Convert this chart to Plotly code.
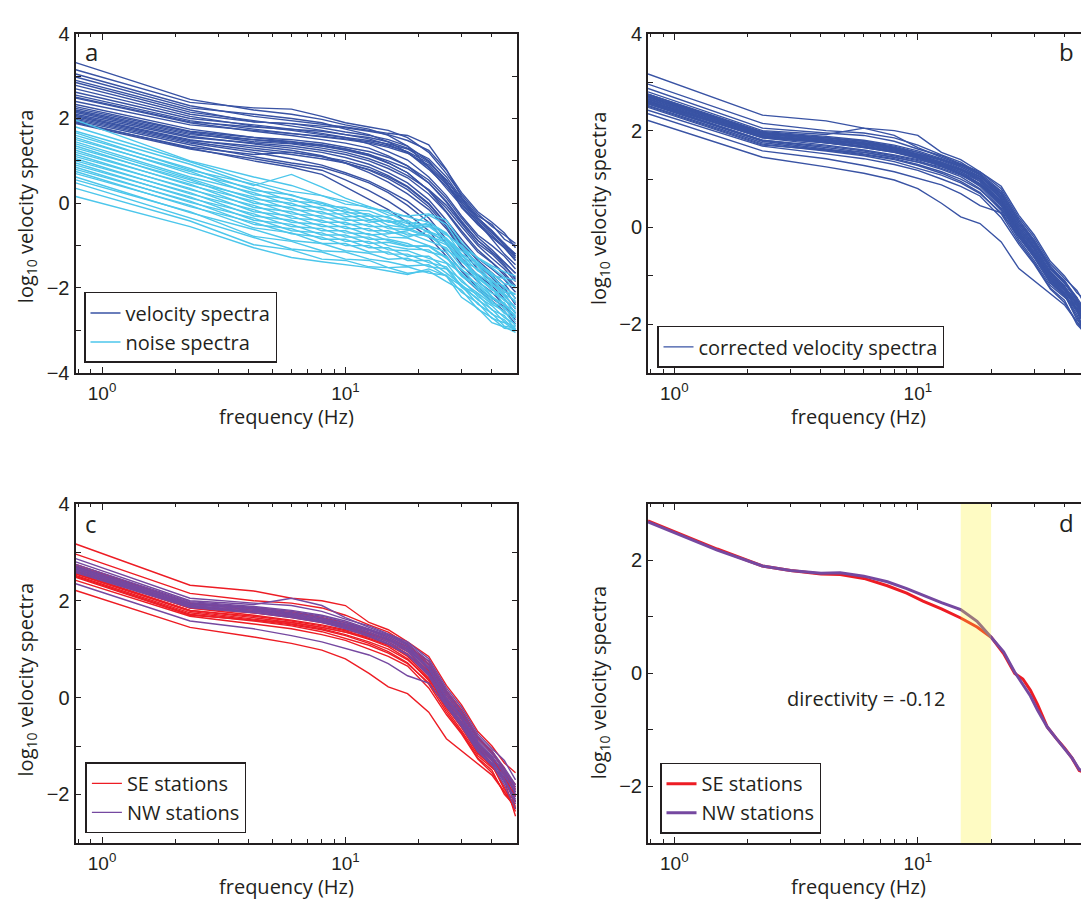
import plotly.graph_objects as go

# ---------------- data ----------------
FREQ = [0.78, 2.3, 4.2, 6, 8, 10, 12.5, 15, 18, 22, 26, 30, 35, 40, 45, 50]

velocity_spectra = [
    [3.32, 2.45, 2.20, 2.10, 1.98, 1.85, 1.75, 1.60, 1.35, 0.85, 0.35, -0.05, -0.50, -0.80, -1.05, -1.25],
    [3.15, 2.38, 2.25, 2.22, 2.05, 1.90, 1.80, 1.72, 1.55, 1.20, 0.70, 0.20, -0.25, -0.55, -0.75, -0.95],
    [3.05, 2.30, 2.05, 1.95, 1.88, 1.80, 1.72, 1.65, 1.60, 1.38, 0.80, 0.15, -0.30, -0.50, -0.85, -1.00],
    [2.98, 2.25, 2.10, 2.00, 1.90, 1.75, 1.62, 1.45, 1.20, 0.80, 0.40, 0.00, -0.45, -0.75, -1.05, -1.35],
    [2.90, 2.20, 1.92, 1.88, 1.82, 1.78, 1.70, 1.62, 1.48, 1.25, 0.78, 0.25, -0.20, -0.45, -0.70, -1.05],
    [2.85, 2.15, 1.95, 1.82, 1.72, 1.62, 1.52, 1.38, 1.20, 0.85, 0.45, 0.05, -0.40, -0.70, -0.95, -1.20],
    [2.78, 2.10, 1.92, 1.88, 1.78, 1.68, 1.60, 1.50, 1.35, 1.00, 0.50, -0.10, -0.50, -0.80, -1.05, -1.35],
    [2.70, 2.05, 1.82, 1.72, 1.62, 1.55, 1.48, 1.40, 1.28, 0.98, 0.55, 0.10, -0.35, -0.65, -1.00, -1.20],
    [2.62, 2.00, 1.85, 1.75, 1.65, 1.55, 1.40, 1.22, 1.02, 0.62, 0.18, -0.30, -0.75, -1.00, -1.25, -1.55],
    [2.55, 1.95, 1.75, 1.65, 1.58, 1.50, 1.42, 1.32, 1.18, 0.90, 0.48, 0.00, -0.45, -0.85, -1.20, -1.45],
    [2.48, 1.90, 1.70, 1.60, 1.50, 1.42, 1.30, 1.12, 0.88, 0.48, 0.02, -0.45, -0.88, -1.15, -1.40, -1.65],
    [2.40, 1.85, 1.72, 1.65, 1.58, 1.52, 1.45, 1.35, 1.22, 0.95, 0.55, 0.05, -0.35, -0.70, -1.00, -1.30],
    [2.33, 1.75, 1.55, 1.45, 1.35, 1.25, 1.12, 0.95, 0.72, 0.30, -0.20, -0.65, -1.10, -1.40, -1.65, -1.95],
    [2.28, 1.70, 1.55, 1.50, 1.42, 1.32, 1.22, 1.08, 0.88, 0.55, 0.12, -0.35, -0.80, -1.10, -1.40, -1.65],
    [2.24, 1.68, 1.50, 1.42, 1.35, 1.28, 1.15, 0.95, 0.72, 0.30, -0.12, -0.55, -1.00, -1.30, -1.55, -1.85],
    [2.20, 1.65, 1.45, 1.40, 1.30, 1.20, 1.05, 0.88, 0.65, 0.32, -0.05, -0.48, -0.95, -1.20, -1.50, -1.75],
    [2.17, 1.62, 1.50, 1.45, 1.38, 1.28, 1.15, 1.00, 0.82, 0.48, 0.05, -0.42, -0.88, -1.15, -1.45, -1.80],
    [2.14, 1.58, 1.40, 1.30, 1.20, 1.08, 0.92, 0.72, 0.48, 0.08, -0.40, -0.85, -1.30, -1.55, -1.80, -2.10],
    [2.10, 1.55, 1.42, 1.35, 1.25, 1.15, 1.00, 0.82, 0.60, 0.22, -0.22, -0.70, -1.15, -1.40, -1.70, -2.00],
    [2.07, 1.50, 1.30, 1.20, 1.10, 1.00, 0.85, 0.65, 0.40, 0.00, -0.48, -0.95, -1.35, -1.65, -1.90, -2.25],
    [2.04, 1.48, 1.35, 1.25, 1.12, 0.95, 0.78, 0.58, 0.32, -0.08, -0.55, -1.05, -1.45, -1.75, -2.05, -2.35],
    [2.01, 1.45, 1.25, 1.15, 1.05, 0.95, 0.80, 0.62, 0.38, -0.02, -0.50, -1.00, -1.45, -1.70, -2.00, -2.40],
    [1.98, 1.42, 1.20, 1.05, 0.90, 0.72, 0.52, 0.30, 0.05, -0.35, -0.85, -1.30, -1.70, -1.95, -2.25, -2.60],
    [1.95, 1.38, 1.10, 0.95, 0.85, 0.68, 0.48, 0.25, -0.05, -0.45, -0.95, -1.45, -1.85, -2.10, -2.40, -2.70],
    [1.92, 1.30, 1.00, 0.85, 0.68, 0.38, 0.10, -0.15, -0.45, -0.80, -1.25, -1.70, -2.05, -2.30, -2.55, -2.85],
    [1.90, 1.32, 1.15, 1.20, 1.10, 0.95, 0.72, 0.50, 0.22, -0.15, -0.60, -1.10, -1.55, -1.85, -2.15, -2.50],
    [1.88, 1.28, 1.05, 0.90, 0.78, 0.55, 0.30, 0.05, -0.25, -0.65, -1.15, -1.60, -2.00, -2.25, -2.45, -2.75],
    [2.50, 1.92, 1.80, 1.75, 1.70, 1.62, 1.55, 1.45, 1.30, 1.05, 0.62, 0.12, -0.35, -0.65, -0.95, -1.25],
]

noise_spectra = [
    [1.96, 1.00, 0.62, 0.42, 0.18, 0.05, -0.12, -0.18, -0.32, -0.45, -0.72, -1.05, -1.28, -1.48, -1.62, -1.72],
    [1.80, 0.98, 0.50, 0.28, 0.18, -0.02, -0.08, -0.28, -0.30, -0.25, -0.40, -0.92, -1.30, -1.52, -1.75, -1.82],
    [1.70, 0.92, 0.42, 0.68, 0.38, 0.12, -0.08, -0.22, -0.45, -0.52, -0.85, -1.12, -1.38, -1.70, -1.78, -2.00],
    [1.66, 0.78, 0.45, 0.18, 0.02, -0.15, -0.18, -0.35, -0.48, -0.66, -0.82, -1.20, -1.42, -1.65, -1.90, -1.95],
    [1.60, 0.82, 0.30, 0.20, -0.05, -0.10, -0.30, -0.32, -0.55, -0.50, -0.75, -1.00, -1.45, -1.72, -2.00, -2.15],
    [1.55, 0.70, 0.35, 0.05, 0.00, -0.22, -0.25, -0.45, -0.40, -0.70, -0.88, -1.25, -1.48, -1.85, -1.95, -2.25],
    [1.50, 0.75, 0.20, 0.10, -0.15, -0.18, -0.38, -0.42, -0.60, -0.55, -0.85, -1.22, -1.60, -1.80, -2.10, -2.15],
    [1.45, 0.62, 0.25, -0.05, -0.10, -0.32, -0.30, -0.52, -0.58, -0.78, -0.92, -1.35, -1.55, -1.95, -2.05, -2.35],
    [1.40, 0.58, 0.10, 0.00, -0.25, -0.25, -0.45, -0.40, -0.55, -0.28, -0.50, -1.05, -1.45, -1.88, -2.15, -2.30],
    [1.35, 0.50, 0.15, -0.15, -0.20, -0.40, -0.40, -0.60, -0.62, -0.80, -0.98, -1.38, -1.68, -1.90, -2.20, -2.45],
    [1.30, 0.55, 0.00, -0.10, -0.35, -0.35, -0.55, -0.55, -0.75, -0.75, -1.10, -1.35, -1.75, -2.05, -2.15, -2.50],
    [1.25, 0.42, 0.05, -0.25, -0.30, -0.50, -0.50, -0.70, -0.70, -0.90, -1.05, -1.50, -1.72, -2.00, -2.30, -2.45],
    [1.20, 0.45, -0.10, -0.20, -0.45, -0.45, -0.65, -0.65, -0.80, -0.65, -0.95, -1.30, -1.85, -2.12, -2.25, -2.60],
    [1.15, 0.32, -0.05, -0.35, -0.40, -0.60, -0.60, -0.80, -0.82, -1.00, -1.15, -1.58, -1.80, -2.20, -2.40, -2.55],
    [1.10, 0.35, -0.20, -0.30, -0.55, -0.55, -0.75, -0.72, -0.65, -0.45, -0.70, -1.20, -1.78, -2.00, -2.40, -2.65],
    [1.05, 0.22, -0.15, -0.45, -0.50, -0.70, -0.72, -0.88, -1.00, -1.02, -1.30, -1.55, -1.95, -2.25, -2.35, -2.70],
    [1.00, 0.25, -0.30, -0.40, -0.65, -0.65, -0.85, -0.85, -0.95, -1.15, -1.25, -1.70, -1.90, -2.20, -2.50, -2.65],
    [0.95, 0.12, -0.25, -0.55, -0.60, -0.80, -0.80, -1.00, -1.08, -1.10, -1.40, -1.65, -2.05, -2.35, -2.45, -2.80],
    [0.90, 0.15, -0.40, -0.50, -0.75, -0.75, -0.95, -0.92, -1.02, -1.00, -1.28, -1.72, -2.00, -2.30, -2.60, -2.70],
    [0.85, 0.02, -0.35, -0.65, -0.70, -0.90, -0.90, -1.10, -1.12, -1.30, -1.42, -1.85, -2.12, -2.38, -2.55, -2.90],
    [0.80, 0.05, -0.50, -0.60, -0.85, -0.85, -1.05, -1.05, -1.25, -1.25, -1.55, -1.80, -2.20, -2.42, -2.70, -2.85],
    [0.75, -0.08, -0.45, -0.72, -0.80, -1.00, -1.00, -1.20, -1.20, -1.40, -1.50, -1.95, -2.15, -2.52, -2.65, -2.98],
    [0.70, -0.05, -0.58, -0.70, -0.95, -0.95, -1.15, -1.15, -1.35, -1.35, -1.65, -1.92, -2.28, -2.50, -2.80, -2.92],
    [0.62, -0.22, -0.62, -0.88, -0.95, -1.12, -1.18, -1.32, -1.30, -1.50, -1.55, -1.98, -2.25, -2.62, -2.75, -3.00],
    [0.55, -0.20, -0.78, -0.90, -1.12, -1.15, -1.32, -1.38, -1.48, -1.45, -1.72, -1.95, -2.38, -2.60, -2.90, -2.95],
    [0.48, -0.35, -0.80, -1.08, -1.15, -1.32, -1.35, -1.52, -1.50, -1.65, -1.70, -2.10, -2.35, -2.72, -2.82, -3.00],
    [0.35, -0.42, -0.98, -1.10, -1.32, -1.35, -1.50, -1.52, -1.65, -1.60, -1.85, -2.05, -2.50, -2.70, -2.95, -2.98],
    [0.16, -0.55, -1.05, -1.28, -1.38, -1.45, -1.52, -1.60, -1.68, -1.55, -1.72, -2.22, -2.48, -2.82, -2.92, -3.05],
]

# corrected velocity spectra (panel b); the same curves split by station side (panel c)
corrected_spectra = [
    [3.17, 2.32, 2.20, 2.05, 2.00, 1.90, 1.55, 1.40, 1.15, 0.85, 0.25, -0.15, -0.70, -1.00, -1.35, -1.55],
    [2.96, 2.15, 2.00, 1.95, 1.85, 1.70, 1.50, 1.35, 1.10, 0.70, 0.10, -0.30, -0.85, -1.10, -1.50, -1.90],
    [2.75, 1.95, 1.80, 1.75, 1.65, 1.50, 1.35, 1.20, 0.95, 0.55, -0.05, -0.45, -1.00, -1.25, -1.70, -2.15],
    [2.70, 1.90, 1.75, 1.65, 1.55, 1.45, 1.30, 1.15, 0.90, 0.45, -0.15, -0.55, -1.05, -1.30, -1.55, -1.95],
    [2.65, 1.88, 1.78, 1.72, 1.62, 1.48, 1.32, 1.18, 1.00, 0.60, 0.05, -0.35, -0.85, -1.15, -1.45, -2.30],
    [2.60, 1.85, 1.70, 1.60, 1.50, 1.40, 1.28, 1.10, 0.85, 0.40, -0.20, -0.60, -1.15, -1.40, -1.85, -2.35],
    [2.58, 1.80, 1.65, 1.55, 1.45, 1.35, 1.20, 1.05, 0.80, 0.35, -0.25, -0.68, -1.20, -1.45, -1.65, -2.05],
    [2.55, 1.78, 1.62, 1.52, 1.42, 1.30, 1.15, 1.00, 0.78, 0.38, -0.12, -0.55, -1.05, -1.38, -1.90, -2.15],
    [2.52, 1.75, 1.60, 1.50, 1.40, 1.28, 1.12, 0.95, 0.72, 0.28, -0.30, -0.72, -1.25, -1.50, -2.00, -2.25],
    [2.50, 1.72, 1.58, 1.48, 1.36, 1.22, 1.08, 0.92, 0.70, 0.30, -0.20, -0.62, -1.15, -1.42, -1.70, -2.45],
    [2.48, 1.70, 1.60, 1.55, 1.45, 1.35, 1.25, 1.10, 0.90, 0.55, 0.00, -0.40, -0.95, -1.25, -1.55, -1.85],
    [2.72, 1.95, 1.85, 1.78, 1.65, 1.55, 1.40, 1.25, 1.05, 0.75, 0.15, -0.25, -0.80, -1.15, -1.50, -1.80],
    [2.21, 1.45, 1.25, 1.12, 0.98, 0.80, 0.50, 0.22, 0.08, -0.30, -0.85, -1.10, -1.35, -1.60, -1.95, -2.30],
    [2.42, 1.68, 1.52, 1.42, 1.30, 1.18, 1.00, 0.85, 0.65, 0.20, -0.35, -0.75, -1.27, -1.55, -1.95, -2.20],
    [2.62, 1.85, 1.75, 1.68, 1.58, 1.46, 1.32, 1.20, 1.05, 0.68, 0.10, -0.30, -0.85, -1.10, -1.50, -2.05],
    [2.56, 1.80, 1.68, 1.58, 1.48, 1.38, 1.22, 1.08, 0.88, 0.50, -0.08, -0.50, -1.00, -1.30, -1.60, -2.15],
    [2.87, 2.05, 1.95, 1.90, 1.78, 1.62, 1.48, 1.32, 1.15, 0.80, 0.20, -0.20, -0.75, -1.05, -1.30, -1.70],
    [2.80, 2.00, 1.92, 2.05, 1.90, 1.65, 1.45, 1.30, 1.12, 0.75, 0.15, -0.28, -0.80, -1.10, -1.45, -1.80],
    [2.75, 1.98, 1.88, 1.80, 1.70, 1.58, 1.42, 1.28, 1.08, 0.70, 0.10, -0.32, -0.85, -1.15, -1.50, -1.85],
    [2.72, 1.96, 1.86, 1.78, 1.68, 1.55, 1.40, 1.25, 1.05, 0.65, 0.05, -0.38, -0.90, -1.20, -1.60, -1.95],
    [2.70, 1.95, 1.85, 1.75, 1.65, 1.52, 1.38, 1.22, 1.02, 0.62, 0.00, -0.42, -0.95, -1.22, -1.55, -2.00],
    [2.68, 1.93, 1.83, 1.73, 1.62, 1.50, 1.35, 1.20, 1.00, 0.58, -0.05, -0.45, -0.98, -1.28, -1.68, -2.10],
    [2.66, 1.92, 1.82, 1.72, 1.63, 1.52, 1.40, 1.28, 1.10, 0.60, -0.02, -0.40, -0.92, -1.25, -1.50, -1.90],
    [2.64, 1.90, 1.80, 1.70, 1.60, 1.48, 1.33, 1.18, 0.98, 0.52, -0.10, -0.50, -1.02, -1.30, -1.70, -2.20],
    [2.62, 1.89, 1.78, 1.68, 1.58, 1.46, 1.30, 1.15, 0.95, 0.50, -0.12, -0.52, -1.05, -1.35, -1.75, -2.05],
    [2.35, 1.58, 1.42, 1.28, 1.15, 1.02, 0.88, 0.70, 0.45, 0.30, -0.18, -0.55, -1.10, -1.35, -1.62, -1.95],
    [2.60, 1.87, 1.76, 1.66, 1.56, 1.44, 1.28, 1.12, 0.90, 0.48, -0.15, -0.58, -1.08, -1.38, -1.80, -2.30],
    [2.58, 1.86, 1.75, 1.65, 1.55, 1.42, 1.26, 1.10, 0.88, 0.45, -0.18, -0.60, -1.12, -1.40, -1.70, -2.15],
]
station_side = ["SE"] * 16 + ["NW"] * 12

# panel d: average spectra of each side
FREQ_D = [0.78, 1.5, 2.3, 3, 4, 4.8, 6, 7.5, 9, 10.5, 12.5, 15, 17.5, 20, 22.5, 25, 27, 29, 31, 34, 37, 40, 43, 46, 50]
mean_SE = [2.70, 2.20, 1.90, 1.82, 1.76, 1.75, 1.68, 1.55, 1.42, 1.28, 1.14, 0.98, 0.82, 0.64, 0.35, 0.00,
           -0.10, -0.30, -0.55, -0.95, -1.15, -1.32, -1.50, -1.72, -1.78]
mean_NW = [2.68, 2.18, 1.90, 1.82, 1.77, 1.78, 1.72, 1.62, 1.50, 1.38, 1.25, 1.13, 0.92, 0.64, 0.38, 0.02,
           -0.20, -0.40, -0.65, -0.95, -1.15, -1.33, -1.50, -1.70, -1.76]
band_hz = [15, 20]
directivity = -0.12

# ---------------- style ----------------
W, H = 1081, 911
INK = "#231f20"
C_VEL = "#3953a4"
C_NOISE = "#4cc6eb"
C_SE = "#ed1c24"
C_NW = "#7548a0"
TICKFONT = "Liberation Sans, Arial, sans-serif"
TXTFONT = "Open Sans, Noto Sans, sans-serif"

LEFT = [75.5 / W, 516.5 / W]
RIGHT = [648 / W, 1.0]
TOP = [1 - 370.7 / H, 1 - 23.3 / H]
BOT = [1 - 852.5 / H, 1 - 505 / H]
XR_LEFT = [-0.109, 1.703]
XR_RIGHT = [-0.108, 1.670]
MINOR_X = [0.8, 0.9, 2, 3, 4, 5, 6, 7, 8, 9, 20, 30, 40, 50]

fig = go.Figure()


def add_line(x, y, color, width, xa, ya, name, legend, show):
    fig.add_trace(go.Scatter(x=x, y=y, mode="lines", line=dict(color=color, width=width),
                             xaxis=xa, yaxis=ya, name=name, legend=legend, showlegend=show,
                             hoverinfo="skip"))


# panel a
for i, s in enumerate(velocity_spectra):
    add_line(FREQ, s, C_VEL, 1.4, "x", "y", "velocity spectra", "legend", i == 0)
for i, s in enumerate(noise_spectra):
    add_line(FREQ, s, C_NOISE, 1.4, "x", "y", "noise spectra", "legend", i == 0)

# panel b
for i, s in enumerate(corrected_spectra):
    add_line(FREQ, s, C_VEL, 1.4, "x2", "y2", "corrected velocity spectra", "legend2", i == 0)

# panel c
first = True
for s, side in zip(corrected_spectra, station_side):
    if side == "SE":
        add_line(FREQ, s, C_SE, 1.4, "x3", "y3", "SE stations", "legend3", first)
        first = False
first = True
for s, side in zip(corrected_spectra, station_side):
    if side == "NW":
        add_line(FREQ, s, C_NW, 1.4, "x3", "y3", "NW stations", "legend3", first)
        first = False

# panel d
add_line(FREQ_D, mean_SE, C_SE, 3, "x4", "y4", "SE stations", "legend4", True)
add_line(FREQ_D, mean_NW, C_NW, 3, "x4", "y4", "NW stations", "legend4", True)
fig.add_trace(go.Scatter(x=[band_hz[0], band_hz[1], band_hz[1], band_hz[0], band_hz[0]],
                         y=[-3, -3, 3, 3, -3], mode="lines", fill="toself",
                         fillcolor="rgba(250,240,40,0.28)", line=dict(width=0),
                         xaxis="x4", yaxis="y4", showlegend=False, hoverinfo="skip"))


def xaxis(domain, rng, anchor):
    return dict(type="log", domain=domain, range=rng, anchor=anchor,
                showline=True, linecolor=INK, linewidth=2, mirror="ticks",
                ticks="inside", ticklen=6, tickwidth=1, tickcolor=INK,
                tickmode="array", tickvals=[1, 10],
                ticktext=["10<sup>0</sup>", "10<sup>1</sup>"],
                tickfont=dict(family=TICKFONT, size=19, color=INK),
                ticklabelstandoff=2,
                minor=dict(ticks="inside", ticklen=3.5, tickwidth=1, tickcolor=INK,
                           tickmode="array", tickvals=MINOR_X, showgrid=False),
                showgrid=False, zeroline=False, fixedrange=True)


def yaxis(domain, lo, hi, anchor, mirror):
    major = [v for v in range(lo, hi + 1) if v % 2 == 0]
    minor = [v for v in range(lo, hi + 1) if v % 2 != 0]
    return dict(domain=domain, range=[lo, hi], anchor=anchor,
                showline=True, linecolor=INK, linewidth=2, mirror=mirror,
                ticks="inside", ticklen=5, tickwidth=1, tickcolor=INK,
                tickmode="array", tickvals=major,
                ticktext=[str(v).replace("-", "\u2212") for v in major],
                tickfont=dict(family=TICKFONT, size=20, color=INK),
                minor=dict(ticks="inside", ticklen=5, tickwidth=1, tickcolor=INK,
                           tickmode="array", tickvals=minor, showgrid=False),
                showgrid=False, zeroline=False, fixedrange=True)


def legend_at(xpx, ybottom_px):
    return dict(x=xpx / W, y=1 - ybottom_px / H, xanchor="left", yanchor="bottom",
                bordercolor=INK, borderwidth=1.5, bgcolor="white",
                font=dict(family=TXTFONT, size=20, color=INK),
                itemwidth=30, tracegroupgap=0, traceorder="normal")


annotations = []


def text(x, y, s, size, angle=0, xanchor="center"):
    annotations.append(dict(x=x / W, y=1 - y / H, xref="paper", yref="paper", text=s,
                            showarrow=False, textangle=angle, xanchor=xanchor, yanchor="middle",
                            font=dict(family=TXTFONT, size=size, color=INK)))


# axis titles
for cx in (286, 858):
    text(cx, 416, "frequency (Hz)", 20)
    text(cx, 897, "frequency (Hz)", 20)
text(26, 201, "log<sub>10</sub> velocity spectra", 20, -90)
text(599, 203, "log<sub>10</sub> velocity spectra", 20, -90)
text(26, 686, "log<sub>10</sub> velocity spectra", 20, -90)
text(599, 689, "log<sub>10</sub> velocity spectra", 20, -90)
# panel letters
text(83, 41, "a", 24, xanchor="left")
text(1066, 41, "b", 24)
text(83, 525, "c", 24, xanchor="left")
text(1066, 524, "d", 24)
text(866, 705, f"directivity = {directivity}", 20)

fig.update_layout(
    width=W, height=H, margin=dict(l=0, r=0, t=0, b=0),
    paper_bgcolor="white", plot_bgcolor="white",
    xaxis=xaxis(LEFT, XR_LEFT, "y"), yaxis=yaxis(TOP, -4, 4, "x", "ticks"),
    xaxis2=xaxis(RIGHT, XR_RIGHT, "y2"), yaxis2=yaxis(TOP, -3, 4, "x2", False),
    xaxis3=xaxis(LEFT, XR_LEFT, "y3"), yaxis3=yaxis(BOT, -3, 4, "x3", "ticks"),
    xaxis4=xaxis(RIGHT, XR_RIGHT, "y4"), yaxis4=yaxis(BOT, -3, 3, "x4", False),
    legend=legend_at(84, 360.7), legend2=legend_at(657, 365.7),
    legend3=legend_at(85.4, 842.7), legend4=legend_at(660, 843),
    annotations=annotations, showlegend=True,
)

fig.write_html("out.html")
